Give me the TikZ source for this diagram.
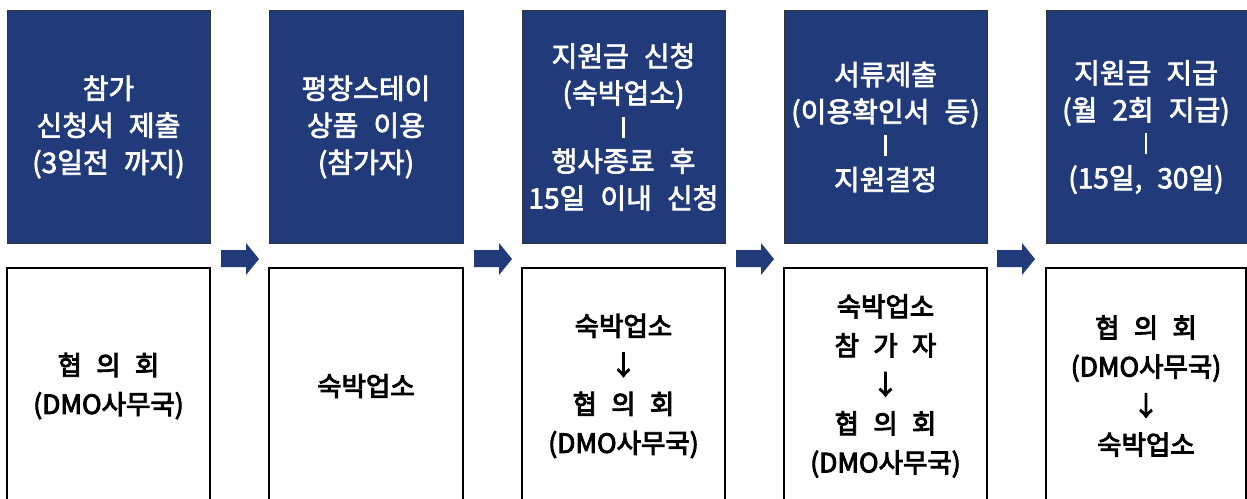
\documentclass[tikz,border=0pt]{standalone}
\usepackage{fontspec}
\setmainfont[WordSpace=2.4]{Noto Sans CJK KR}
\newfontfamily\topfont[WordSpace=2.4,FakeBold=2.5]{Noto Sans CJK KR}
\newfontfamily\botfont[WordSpace=2.4,FakeBold=3.5]{Noto Sans CJK KR}
\newcommand{\vbarline}{\rule{2.2pt}{21pt}}
\definecolor{navy}{RGB}{33,59,122}
\tikzset{
  topbox/.style={fill=navy, draw=black!80, line width=0.8pt},
  botbox/.style={fill=white, draw=black, line width=1.6pt},
  toptext/.style={text=white, align=center, font=\topfont\fontsize{28}{37}\selectfont, inner sep=0pt},
  bottext/.style={text=black, align=center, font=\botfont\fontsize{26.5}{39}\selectfont, inner sep=0pt},
  flowarrow/.style={fill=navy, draw=none}
}
\begin{document}
\begin{tikzpicture}[x=1pt,y=-1pt]
\useasboundingbox (0,0) rectangle (1247,498);
\fill[white] (0,0) rectangle (1247,498);
\foreach \l/\r/\n in {7/210/1,269/463/2,522/725/3,784/987/4,1046/1249/5}{
  \path[topbox] (\l,10) rectangle (\r,243);
}
\foreach \l/\r/\n in {7/210/1,269/463/2,522/725/3,784/987/4,1046/1246/5}{
  \path[botbox] (\l,268) rectangle (\r,520);
  \coordinate (bc\n) at ({(\l+\r)/2},386);
}
\coordinate (tc1) at (108.5,127);
\coordinate (tc2) at (366,127);
\coordinate (tc3) at (623.5,127);
\coordinate (tc4) at (885.5,127);
\coordinate (tc5) at (1146,127);
% top texts
\node[toptext] (t1) at (tc1) {참가\\신청서 제출\\(3일전 까지)};
\node[toptext] (t2) at (tc2) {평창스테이\\상품 이용\\(참가자)};
\node[toptext] (t3) at (tc3) {지원금 신청\\(숙박업소)\\[-3pt]\vbarline\\[-3pt]행사종료 후\\15일 이내 신청};
\node[toptext] (t4) at (tc4) {서류제출\\(이용확인서 등)\\[-3pt]\vbarline\\[-3pt]지원결정};
\node[toptext] (t5) at (tc5) {지원금 지급\\(월 2회 지급)\\[-3pt]\vbarline\\[-3pt](15일, 30일)};
% bottom texts
\node[bottext] (b1) at (bc1) {협 의 회\\(DMO사무국)};
\node[bottext] (b2) at (bc2) {숙박업소};
\node[bottext] (b3) at (bc3) {숙박업소\\↓\\협 의 회\\(DMO사무국)};
\node[bottext] (b4) at (bc4) {숙박업소\\참 가 자\\↓\\협 의 회\\(DMO사무국)};
\node[bottext] (b5) at (bc5) {협 의 회\\(DMO사무국)\\↓\\숙박업소};
% arrows
\foreach \a in {221,474,736,997}{
  \fill[flowarrow] (\a,250) -- (\a+25,250) -- (\a+25,243) -- (\a+38,259) -- (\a+25,275) -- (\a+25,267) -- (\a,267) -- cycle;
}
\end{tikzpicture}
\end{document}
